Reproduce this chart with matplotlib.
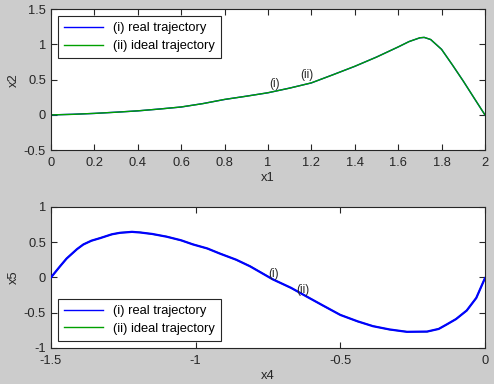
import matplotlib
matplotlib.use("Agg")
import matplotlib.pyplot as plt

# top panel: x2 vs x1
x1 = [0.0, 0.1, 0.2, 0.3, 0.4, 0.5, 0.6, 0.7, 0.8, 0.9, 1.0, 1.1, 1.2, 1.3,
      1.4, 1.5, 1.6, 1.65, 1.7, 1.72, 1.75, 1.8, 1.85, 1.9, 1.95, 2.0]
x2_ideal = [0.0, 0.008, 0.022, 0.038, 0.058, 0.083, 0.113, 0.16, 0.22, 0.265,
            0.315, 0.38, 0.455, 0.57, 0.69, 0.82, 0.965, 1.04, 1.095, 1.1,
            1.07, 0.93, 0.71, 0.48, 0.24, 0.0]
x2_real = [0.0, 0.009, 0.021, 0.039, 0.057, 0.084, 0.112, 0.161, 0.219, 0.266,
           0.314, 0.381, 0.454, 0.571, 0.689, 0.821, 0.964, 1.041, 1.094, 1.1,
           1.069, 0.931, 0.709, 0.481, 0.239, 0.0]

# bottom panel: x5 vs x4
x4 = [-1.5, -1.47, -1.446, -1.41, -1.388, -1.36, -1.33, -1.29, -1.262, -1.22,
      -1.192, -1.15, -1.1, -1.05, -1.009, -0.96, -0.916, -0.86, -0.812, -0.733,
      -0.67, -0.616, -0.56, -0.5, -0.44, -0.387, -0.33, -0.27, -0.2, -0.16,
      -0.133, -0.1, -0.063, -0.03, 0.0]
x5_ideal = [0.0, 0.15, 0.27, 0.4, 0.47, 0.52, 0.56, 0.61, 0.635, 0.645,
            0.64, 0.615, 0.58, 0.525, 0.47, 0.41, 0.34, 0.25, 0.16, -0.026,
            -0.15, -0.27, -0.4, -0.53, -0.625, -0.69, -0.74, -0.77, -0.77, -0.73,
            -0.67, -0.59, -0.47, -0.29, -0.01]
x5_real = [0.0, 0.152, 0.268, 0.402, 0.468, 0.522, 0.558, 0.612, 0.633, 0.647,
           0.638, 0.617, 0.578, 0.527, 0.468, 0.412, 0.338, 0.252, 0.158, -0.028,
           -0.148, -0.272, -0.398, -0.532, -0.623, -0.692, -0.738, -0.772, -0.768, -0.731,
           -0.669, -0.591, -0.469, -0.291, -0.01]

labels = ["(i) real trajectory", "(ii) ideal trajectory"]

BG = "#cccccc"
BLUE = "#0000ff"
GREEN = "#00a000"
INK = "#262626"
FS = 9.3

plt.rcParams["font.family"] = ["Liberation Sans", "DejaVu Sans"]
plt.rcParams["font.size"] = FS

fig = plt.figure(figsize=(4.94, 3.84), dpi=100, facecolor=BG)
top = fig.add_axes([0.1032, 0.609, 0.8785, 0.367])
bot = fig.add_axes([0.1032, 0.094, 0.8785, 0.367])


def style(ax):
    ax.set_facecolor("white")
    for s in ax.spines.values():
        s.set_color(INK)
        s.set_linewidth(0.8)
    ax.tick_params(direction="in", top=True, right=True, length=4,
                   colors=INK, labelsize=FS, width=0.8)
    ax.tick_params(axis="x", pad=5)


def legenda(ax, handles, loc):
    leg = ax.legend(handles, labels, loc=loc, fontsize=FS, fancybox=False,
                    edgecolor=INK, framealpha=1, borderaxespad=0.55,
                    handlelength=3.0, labelspacing=0.45, borderpad=0.45)
    leg.get_frame().set_linewidth(0.8)
    for l in leg.get_lines():
        l.set_linewidth(1.0)


style(top)
r1, = top.plot(x1, x2_real, color=BLUE, linewidth=1.0)
i1, = top.plot(x1, x2_ideal, color=GREEN, linewidth=1.0)
top.set_xlim(0, 2)
top.set_ylim(-0.5, 1.5)
top.set_xticks([0, 0.2, 0.4, 0.6, 0.8, 1, 1.2, 1.4, 1.6, 1.8, 2])
top.set_xticklabels(["0", "0.2", "0.4", "0.6", "0.8", "1", "1.2", "1.4",
                     "1.6", "1.8", "2"])
top.set_yticks([-0.5, 0, 0.5, 1, 1.5])
top.set_yticklabels(["-0.5", "0", "0.5", "1", "1.5"])
top.set_xlabel("x1", color=INK, labelpad=2)
top.set_ylabel("x2", color=INK, labelpad=3)
top.text(1.03, 0.44, "(i)", ha="center", va="center", color=INK, fontsize=8.5)
top.text(1.18, 0.56, "(ii)", ha="center", va="center", color=INK, fontsize=8.5)
legenda(top, [r1, i1], "upper left")

style(bot)
i2, = bot.plot(x4, x5_ideal, color=GREEN, linewidth=1.0)
r2, = bot.plot(x4, x5_real, color=BLUE, linewidth=1.6, zorder=3)
bot.set_xlim(-1.5, 0)
bot.set_ylim(-1, 1)
bot.set_xticks([-1.5, -1, -0.5, 0])
bot.set_xticklabels(["-1.5", "-1", "-0.5", "0"])
bot.set_yticks([-1, -0.5, 0, 0.5, 1])
bot.set_yticklabels(["-1", "-0.5", "0", "0.5", "1"])
bot.set_xlabel("x4", color=INK, labelpad=2)
bot.set_ylabel("x5", color=INK, labelpad=3)
bot.text(-0.73, 0.05, "(i)", ha="center", va="center", color=INK, fontsize=8.5)
bot.text(-0.63, -0.18, "(ii)", ha="center", va="center", color=INK, fontsize=8.5)
legenda(bot, [r2, i2], "lower left")

fig.savefig("out.png", dpi=100, facecolor=BG)
